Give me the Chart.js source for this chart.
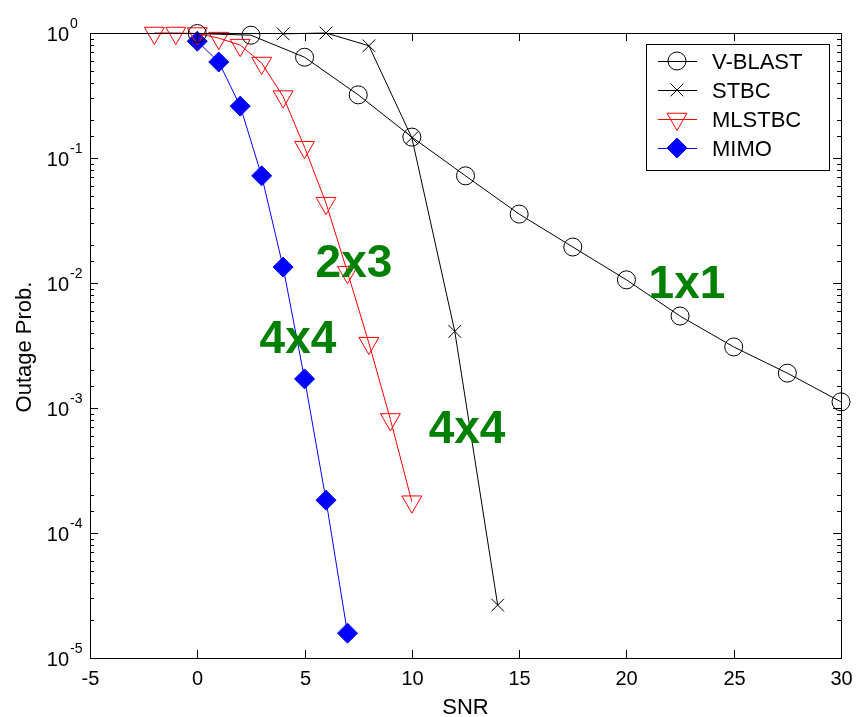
<!DOCTYPE html>
<html>
<head>
<meta charset="utf-8">
<script src="https://cdn.jsdelivr.net/npm/chart.js@4.4.1/dist/chart.umd.min.js"></script>
<style>
  body { margin: 0; background: #fff; }
  canvas { display: block; }
</style>
</head>
<body>
<canvas id="chart" width="856" height="717"></canvas>
<script>
// values
var vblastSnr = [0, 2.5, 5, 7.5, 10, 12.5, 15, 17.5, 20, 22.5, 25, 27.5, 30];
var vblastOut = [0.99, 0.96, 0.64, 0.32, 0.147, 0.072, 0.0356, 0.0194, 0.0106, 0.00544, 0.00308, 0.0019, 0.00112];

var stbcSnr = [4, 6, 8, 10, 12, 14];
var stbcOut = [0.985, 1.0, 0.79, 0.145, 0.0041, 0.0000265];

var mlstbcSnr = [-2, -1, 0, 1, 2, 3, 4, 5, 6, 7, 8, 9, 10];
var mlstbcOut = [1.0, 1.0, 0.99, 0.91, 0.8, 0.575, 0.31, 0.122, 0.0435, 0.0122, 0.0033, 0.00081, 0.000178];

var mimoSnr = [0, 1, 2, 3, 4, 5, 6, 7];
var mimoOut = [0.86, 0.586, 0.26, 0.072, 0.0134, 0.00171, 0.000183, 0.0000158];

var seriesNames = ["V-BLAST", "STBC", "MLSTBC", "MIMO"];

// text labels on the plot, placed in data units
var noteText = ["2x3", "4x4", "4x4", "1x1"];
var noteSnr = [7.3, 4.69, 12.57, 22.82];
var noteOut = [0.0112, 0.00275, 0.000525, 0.0076];

var FONT = '"Liberation Sans", Arial, sans-serif';

function points(xs, ys) {
  return xs.map(function(x, i) {
    return { x: x, y: ys[i] };
  });
}

function series(label, xs, ys, color, style, radius, fill, rotation) {
  return {
    label: label,
    data: points(xs, ys),
    showLine: true,
    borderColor: color,
    borderWidth: 1,
    pointStyle: style,
    pointRadius: radius,
    pointHoverRadius: radius,
    pointRotation: rotation || 0,
    pointBorderColor: color,
    pointBorderWidth: 1,
    pointBackgroundColor: fill,
    clip: false
  };
}

var datasets = [
  series(seriesNames[0], vblastSnr, vblastOut, "#000000", "circle", 9, "rgba(0,0,0,0)"),
  series(seriesNames[1], stbcSnr, stbcOut, "#000000", "crossRot", 9, "rgba(0,0,0,0)"),
  series(seriesNames[2], mlstbcSnr, mlstbcOut, "#ff0000", "triangle", 11.5, "rgba(0,0,0,0)", 180),
  series(seriesNames[3], mimoSnr, mimoOut, "#0000ff", "rectRot", 10, "#0000ff")
];

var framePlugin = {
  id: "frame",
  afterDatasetsDraw: function(chart) {
    var ctx = chart.ctx;
    var xs = chart.scales.x;
    var ys = chart.scales.y;
    ctx.save();
    ctx.fillStyle = "#008000";
    ctx.font = "bold 46px " + FONT;
    ctx.textAlign = "center";
    ctx.textBaseline = "alphabetic";
    for (var i = 0; i < noteText.length; i++) {
      ctx.fillText(noteText[i], xs.getPixelForValue(noteSnr[i]), ys.getPixelForValue(noteOut[i]));
    }
    ctx.restore();
  },
  afterDraw: function(chart) {
    var ctx = chart.ctx;
    var a = chart.chartArea;
    var xs = chart.scales.x;
    var ys = chart.scales.y;
    ctx.save();
    ctx.strokeStyle = "#000";
    ctx.lineWidth = 1;
    ctx.strokeRect(Math.round(a.left) + 0.5, Math.round(a.top) + 0.5,
      Math.round(a.right - a.left), Math.round(a.bottom - a.top));

    // x ticks, inward on bottom and top
    ctx.fillStyle = "#000";
    ctx.font = "20px " + FONT;
    ctx.textAlign = "center";
    ctx.textBaseline = "alphabetic";
    xs.ticks.forEach(function(t) {
      var px = Math.round(xs.getPixelForValue(t.value)) + 0.5;
      ctx.beginPath();
      ctx.moveTo(px, a.bottom);
      ctx.lineTo(px, a.bottom - 8);
      ctx.moveTo(px, a.top);
      ctx.lineTo(px, a.top + 8);
      ctx.stroke();
      ctx.fillText(String(t.value), px, a.bottom + 27);
    });

    // y ticks, log decades with minor ticks
    ys.ticks.forEach(function(t) {
      var e = Math.log10(t.value);
      var major = Math.abs(e - Math.round(e)) < 1e-6;
      var py = Math.round(ys.getPixelForValue(t.value)) + 0.5;
      var len = major ? 8 : 4;
      ctx.beginPath();
      ctx.moveTo(a.left, py);
      ctx.lineTo(a.left + len, py);
      ctx.moveTo(a.right, py);
      ctx.lineTo(a.right - len, py);
      ctx.stroke();
      if (major) {
        ctx.font = "20px " + FONT;
        ctx.textAlign = "right";
        ctx.fillText("10", 69, py + 7);
        ctx.font = "14px " + FONT;
        ctx.textAlign = "left";
        ctx.fillText(String(Math.round(e)), 70, py - 6);
      }
    });

    // axis titles
    ctx.font = "22px " + FONT;
    ctx.textAlign = "center";
    ctx.fillText("SNR", (a.left + a.right) / 2, 714);
    ctx.save();
    ctx.translate(31, 347);
    ctx.rotate(-Math.PI / 2);
    ctx.fillText("Outage Prob.", 0, 0);
    ctx.restore();

    // legend box
    var lx = 646, ly = 44, lw = 183, lh = 126;
    ctx.fillStyle = "#fff";
    ctx.fillRect(lx, ly, lw, lh);
    ctx.strokeRect(lx + 0.5, ly + 0.5, lw, lh);
    chart.data.datasets.forEach(function(ds, i) {
      var ry = 61 + i * 29;
      ctx.strokeStyle = ds.borderColor;
      ctx.lineWidth = 1;
      ctx.beginPath();
      ctx.moveTo(658, ry + 0.5);
      ctx.lineTo(697, ry + 0.5);
      ctx.stroke();
      ctx.fillStyle = ds.pointBackgroundColor;
      Chart.helpers.drawPoint(ctx, {
        pointStyle: ds.pointStyle,
        radius: ds.pointRadius,
        rotation: ds.pointRotation,
        borderWidth: 1
      }, 677, ry);
      ctx.fillStyle = "#000";
      ctx.font = "22px " + FONT;
      ctx.textAlign = "left";
      ctx.fillText(ds.label, 712, ry + 8);
    });
    ctx.restore();
  }
};

new Chart(document.getElementById("chart"), {
  type: "scatter",
  data: { datasets: datasets },
  options: {
    responsive: false,
    animation: false,
    events: [],
    layout: { padding: { top: 33, right: 15, left: 0, bottom: 0 } },
    plugins: { legend: { display: false }, tooltip: { enabled: false } },
    scales: {
      x: {
        type: "linear",
        min: -5,
        max: 30,
        ticks: { display: false, stepSize: 5 },
        grid: { display: false },
        border: { display: false },
        afterFit: function(s) { s.height = 59; }
      },
      y: {
        type: "logarithmic",
        min: 0.00001,
        max: 1,
        ticks: { display: false },
        grid: { display: false },
        border: { display: false },
        afterFit: function(s) { s.width = 90; }
      }
    }
  },
  plugins: [framePlugin]
});
</script>
</body>
</html>
